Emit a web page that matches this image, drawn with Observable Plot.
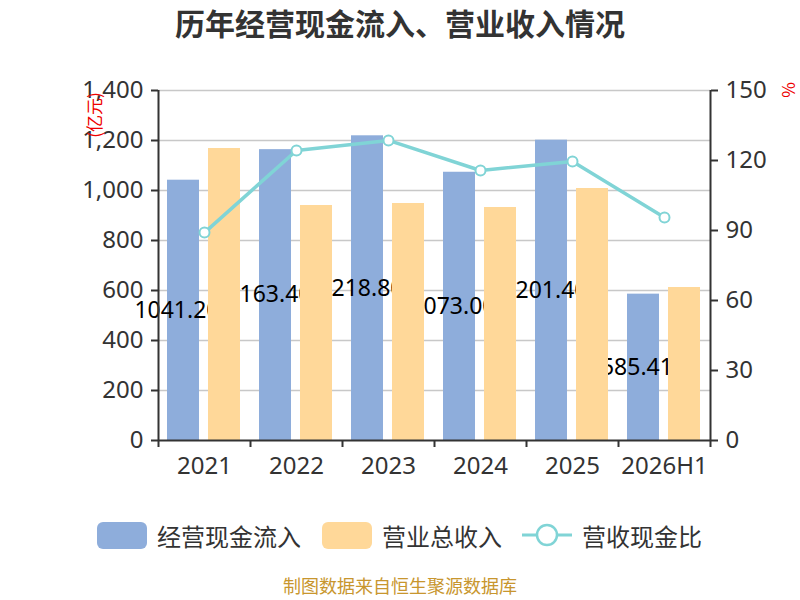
<!DOCTYPE html>
<html>
<head>
<meta charset="utf-8">
<script src="https://cdn.jsdelivr.net/npm/d3@7"></script>
<script src="https://cdn.jsdelivr.net/npm/@observablehq/plot@0.6"></script>
<style>
  html, body { margin: 0; padding: 0; background: #fff; }
  body { width: 800px; height: 600px; position: relative; font-family: "Noto Sans", "Noto Sans CJK SC", sans-serif; overflow: hidden; }
  #title { position: absolute; left: 0; top: 2px; width: 800px; text-align: center; font-size: 30px; line-height: 40px; font-weight: bold; color: #333; font-family: "Noto Sans CJK SC", sans-serif; }
  #chart { position: absolute; left: 0; top: 50px; }
  #legend { position: absolute; left: 0; top: 518px; width: 800px; height: 34px; font-family: "Noto Sans CJK SC", sans-serif; font-size: 24px; color: #333; }
  .item { position: absolute; top: 0; height: 34px; display: flex; align-items: center; }
  .sw { width: 50px; height: 27px; border-radius: 6px; margin-right: 10px; }
  #caption { position: absolute; left: 0; top: 576px; width: 800px; height: 19px; text-align: center; font-size: 18px; line-height: 19px; color: #c8962e; font-family: "Noto Sans CJK SC", sans-serif; }
  .unit { position: absolute; color: #e00; font-size: 17px; line-height: 20px; font-family: "Noto Sans CJK SC", sans-serif; transform: rotate(-90deg); transform-origin: center; white-space: nowrap; }
</style>
</head>
<body>
<div id="title">历年经营现金流入、营业收入情况</div>
<div id="chart"></div>
<div class="unit" style="left:71px; top:105px;">(亿元)</div>
<div class="unit" style="left:780px; top:80px;">%</div>
<div id="legend"></div>
<div id="caption">制图数据来自恒生聚源数据库</div>
<script>
const categories = ["2021", "2022", "2023", "2024", "2025", "2026H1"];
const cashInflow = [1041.20, 1163.40, 1218.80, 1073.00, 1201.40, 585.41];
const revenue = [1168, 940, 948, 932, 1008, 612];
const cashRatio = [89.1, 124.3, 128.6, 115.7, 119.6, 95.6];
const leftTicks = [0, 200, 400, 600, 800, 1000, 1200, 1400];
const rightTicks = [0, 30, 60, 90, 120, 150];

const yMax = 1400, pMax = 150;
const toLeft = p => p * yMax / pMax;

const blue = "#8eaddb", orange = "#ffd899", teal = "#80d4d6";

const rows = categories.map((c, i) => ({
  cat: c, i, cash: cashInflow[i], rev: revenue[i], ratio: cashRatio[i]
}));

const chart = Plot.plot({
  width: 800,
  height: 450,
  marginLeft: 158,
  marginRight: 90,
  marginTop: 40,
  marginBottom: 60,
  style: { fontFamily: "'Noto Sans', sans-serif", background: "transparent", overflow: "visible" },
  x: { type: "linear", domain: [0, categories.length], axis: null },
  y: { domain: [0, yMax], axis: null },
  marks: [
    Plot.ruleY(leftTicks.filter(d => d > 0), { stroke: "#c8c8c8", strokeWidth: 1.5 }),
    Plot.rectY(rows, { x1: d => d.i, x2: d => d.i + 1, y1: 0, y2: "cash", fill: blue, insetLeft: 9, insetRight: 51 }),
    Plot.text(rows, { x: d => d.i + 0.5, y: d => d.cash / 2, dx: -21, text: d => d3.format(".3f")(d.cash), fontSize: 23, fill: "#000" }),
    Plot.rectY(rows, { x1: d => d.i, x2: d => d.i + 1, y1: 0, y2: "rev", fill: orange, insetLeft: 50, insetRight: 10 }),
    Plot.line(rows, { x: d => d.i + 0.5, y: d => toLeft(d.ratio), stroke: teal, strokeWidth: 3.5 }),
    Plot.dot(rows, { x: d => d.i + 0.5, y: d => toLeft(d.ratio), r: 5, fill: "#fff", stroke: teal, strokeWidth: 2 }),
    Plot.ruleX([0], { stroke: "#333", strokeWidth: 2 }),
    Plot.ruleX([categories.length], { stroke: "#333", strokeWidth: 2 }),
    Plot.ruleY([0], { stroke: "#333", strokeWidth: 2 }),
    Plot.axisY({ anchor: "left", ticks: leftTicks, tickFormat: d3.format(","), tickSize: 7, tickPadding: 8, fontSize: 24, color: "#333", strokeWidth: 2 }),
    Plot.axisY({ anchor: "right", ticks: rightTicks.map(toLeft), tickFormat: d => d3.format("d")(Math.round(d * pMax / yMax)), tickSize: 7, tickPadding: 8, fontSize: 24, color: "#333", strokeWidth: 2 }),
    Plot.axisX({ ticks: d3.range(0, categories.length + 1), tickFormat: () => "", tickSize: 7, color: "#333", strokeWidth: 2 }),
    Plot.axisX({ ticks: categories.map((c, i) => i + 0.5), tickFormat: d => categories[Math.floor(d)], tickSize: 0, tickPadding: 16, fontSize: 24, color: "#333" })
  ]
});
document.getElementById("chart").appendChild(chart);

// legend
const legend = document.getElementById("legend");
const items = [
  { label: "经营现金流入", type: "rect", color: blue, left: 97 },
  { label: "营业总收入", type: "rect", color: orange, left: 322 },
  { label: "营收现金比", type: "line", color: teal, left: 522 }
];
items.forEach(it => {
  const d = document.createElement("div");
  d.className = "item";
  d.style.left = it.left + "px";
  if (it.type === "rect") {
    const s = document.createElement("div");
    s.className = "sw";
    s.style.background = it.color;
    d.appendChild(s);
  } else {
    const ns = "http://www.w3.org/2000/svg";
    const svg = document.createElementNS(ns, "svg");
    svg.setAttribute("width", 50); svg.setAttribute("height", 28);
    svg.style.marginRight = "10px";
    const l = document.createElementNS(ns, "line");
    l.setAttribute("x1", 0); l.setAttribute("x2", 50); l.setAttribute("y1", 14); l.setAttribute("y2", 14);
    l.setAttribute("stroke", it.color); l.setAttribute("stroke-width", 3);
    const c = document.createElementNS(ns, "circle");
    c.setAttribute("cx", 25); c.setAttribute("cy", 14); c.setAttribute("r", 10);
    c.setAttribute("fill", "#fff"); c.setAttribute("stroke", it.color); c.setAttribute("stroke-width", 2.5);
    svg.appendChild(l); svg.appendChild(c);
    d.appendChild(svg);
  }
  const t = document.createElement("span");
  t.textContent = it.label;
  d.appendChild(t);
  legend.appendChild(d);
});
</script>
</body>
</html>
